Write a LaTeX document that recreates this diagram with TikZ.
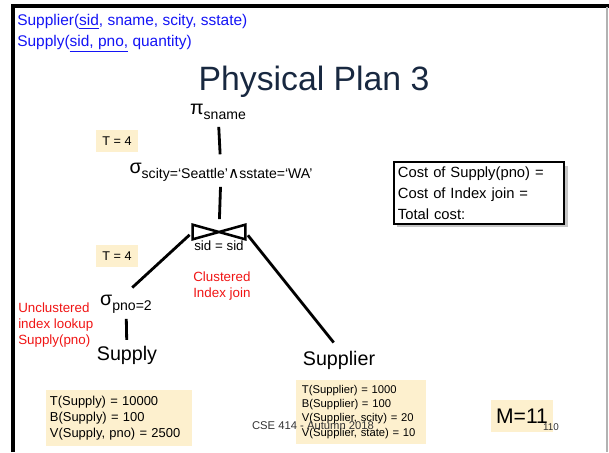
\documentclass[tikz,border=0pt]{standalone}
\usepackage{fontspec}
\setmainfont{Liberation Sans}
\newfontfamily\symfont{DejaVu Sans}
\usetikzlibrary{shadows}
\definecolor{hdrblue}{RGB}{20,20,245}
\definecolor{titlenavy}{RGB}{24,40,64}
\definecolor{notebg}{RGB}{253,240,206}
\definecolor{notered}{RGB}{240,20,20}
\newcommand\opsub[1]{\raisebox{-0.45ex}{\fontsize{10}{11}\selectfont #1}}
\tikzset{edge/.style={line width=2pt},
	hdr/.style={anchor=west,text=hdrblue,font=\fontsize{11}{13}\selectfont,inner sep=0},
	op/.style={font=\fontsize{14}{16}\selectfont,inner sep=1pt},
	rel/.style={font=\fontsize{14}{16}\selectfont,inner sep=1pt},
	tbox/.style={fill=notebg,font=\fontsize{9}{11}\selectfont,minimum width=1.05cm,minimum height=0.57cm,inner sep=0},
	note/.style={align=left,text=notered,font=\fontsize{9.5}{11.5}\selectfont,inner sep=0},
	stats/.style={fill=notebg,align=left,inner sep=0,text width=#1},
	stats/.default=3cm}

\begin{document}
\begin{tikzpicture}[x=0.025cm,y=-0.025cm]
	\useasboundingbox (0,0) rectangle (609,452);
	% slide frame
	\draw[line width=2.2pt] (13,452)--(13,6)--(609,6);
	\draw[gray!60,line width=0.8pt] (607,7)--(607,452);
	% schema
	\node[hdr] (schemaA) at (17,22) {Supplier(\underline{sid}, sname, scity, sstate)};
	\node[hdr] (schemaB) at (17,44) {Supply(\underline{sid, pno,} quantity)};
	\node[text=titlenavy,font=\fontsize{24}{27}\selectfont] (title) at (314,82) {Physical Plan 3};
	% plan tree
	\node[op] (proj) at (218,112) {π\opsub{sname}};
	\node[op] (sel) at (221,172) {σ\opsub{scity=‘Seattle’{\symfont\fontsize{11}{11}\selectfont∧}sstate=‘WA’}};
	\node[minimum width=1.3cm,minimum height=0.35cm,inner sep=0] (join) at (219,232) {};
	\draw[line width=1.8pt,line join=miter] (join.north west)--(join.south east)--(join.north east)--(join.south west)--cycle;
	\node[font=\fontsize{9.5}{11}\selectfont,inner sep=0] (cond) at (219,246) {sid = sid};
	\node[op] (selpno) at (126,304) {σ\opsub{pno=2}};
	\node[rel] (supply) at (127,355) {Supply};
	\node[rel] (supplier) at (339,360) {Supplier};
	\draw[edge,shorten <=4pt,shorten >=5pt] (proj) -- (sel);
	\draw[edge,shorten <=3pt,shorten >=4pt] (sel) -- (join);
	\draw[edge,shorten <=3pt,shorten >=6pt] (join.west) -- (selpno.north);
	\draw[edge,shorten <=3pt,shorten >=6pt] (join.east) -- (supplier.north);
	\draw[edge,shorten <=3pt,shorten >=3pt] (selpno) -- (supply);
	% annotations
	\node[tbox] (tproj) at (117,141) {T = 4};
	\node[tbox] (tjoin) at (117,256) {T = 4};
	\node[note,anchor=west] (joinnote) at (193,286) {Clustered\\Index join};
	\node[note,anchor=west] (lookup) at (18,325) {Unclustered\\index lookup\\Supply(pno)};
	\node[draw,fill=white,line width=1.2pt,drop shadow={opacity=0.45},align=left,
		font=\fontsize{10.5}{15}\selectfont,text width=4.05cm,inner sep=3pt] (cost) at (479,193)
		{Cost of Supply(pno) =\\Cost of Index join =\\Total cost:};
	\node[stats=3.45cm,font=\fontsize{9.2}{11.5}\selectfont,inner xsep=3pt,inner ysep=4pt] (supplystats) at (119,418)
		{T(Supply) = 10000\\B(Supply) = 100\\V(Supply, pno) = 2500};
	\node[stats=2.95cm,font=\fontsize{8}{10}\selectfont,inner xsep=4pt,inner ysep=4pt] (supplierstats) at (361,412)
		{T(Supplier) = 1000\\B(Supplier) = 100\\V(Supplier, scity) = 20\\V(Supplier, state) = 10};
	\node[fill=notebg,font=\fontsize{15}{17}\selectfont,minimum width=1.55cm,minimum height=0.78cm,inner sep=0] (mem) at (522,416) {M=11};
	% footer
	\node[text=black!80,font=\fontsize{8}{10}\selectfont,inner sep=0] (footer) at (313,426) {CSE 414 - Autumn 2018};
	\node[text=black!80,font=\fontsize{7}{9}\selectfont,inner sep=0] (pagenum) at (551,427) {110};
\end{tikzpicture}
\end{document}
